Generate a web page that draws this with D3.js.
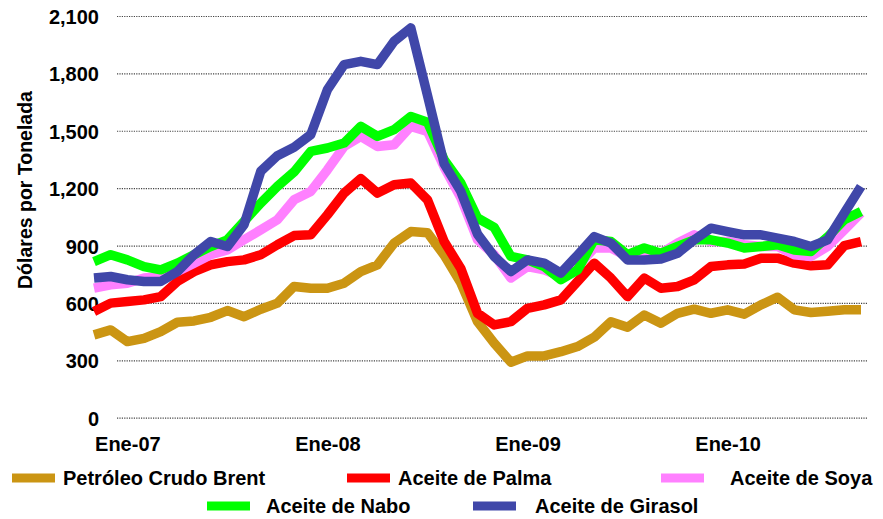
<!DOCTYPE html>
<html>
<head>
<meta charset="utf-8">
<title>Precios de aceites y petróleo</title>
<script src="https://cdnjs.cloudflare.com/ajax/libs/d3/7.8.5/d3.min.js"></script>
<style>
  body { margin: 0; background: #fff; }
  svg { display: block; font-family: "Liberation Sans", Arial, sans-serif; font-weight: bold; }
  .grid line { stroke: #444; stroke-width: 1.2; stroke-dasharray: 1.2 1.2; }
</style>
</head>
<body>
<svg id="chart" width="883" height="519"></svg>
<script>
// Months, Nov-06 .. Sep-10
const months = [
  "Nov-06", "Dic-06",
  "Ene-07", "Feb-07", "Mar-07", "Abr-07", "May-07", "Jun-07", "Jul-07", "Ago-07", "Sep-07", "Oct-07", "Nov-07", "Dic-07",
  "Ene-08", "Feb-08", "Mar-08", "Abr-08", "May-08", "Jun-08", "Jul-08", "Ago-08", "Sep-08", "Oct-08", "Nov-08", "Dic-08",
  "Ene-09", "Feb-09", "Mar-09", "Abr-09", "May-09", "Jun-09", "Jul-09", "Ago-09", "Sep-09", "Oct-09", "Nov-09", "Dic-09",
  "Ene-10", "Feb-10", "Mar-10", "Abr-10", "May-10", "Jun-10", "Jul-10", "Ago-10", "Sep-10"
];
const xTickLabels = ["Ene-07", "Ene-08", "Ene-09", "Ene-10"];
const yTicks = [0, 300, 600, 900, 1200, 1500, 1800, 2100];

// Dólares por tonelada
const brent = [433, 459, 398, 415, 450, 499, 506, 525, 560, 528, 567, 599, 686, 677, 677, 703, 764, 799, 913, 973, 967, 850, 705, 502,
  390, 290, 323, 323, 345, 372, 421, 502, 473, 537, 494, 546, 567, 546, 564, 541, 590, 630, 564, 550, 557, 564, 564];
const palma = [555, 599, 607, 616, 633, 712, 764, 799, 816, 825, 852, 904, 952, 956, 1061, 1174, 1250, 1174, 1218, 1227, 1139, 921, 780, 546,
  485, 502, 572, 590, 616, 712, 808, 730, 633, 730, 677, 686, 721, 790, 799, 804, 834, 834, 808, 794, 799, 900, 920];
const soya = [677, 695, 703, 730, 738, 764, 808, 852, 877, 930, 982, 1035, 1139, 1183, 1296, 1418, 1471, 1418, 1427, 1523, 1497, 1310, 1150, 930,
  852, 730, 790, 773, 738, 790, 887, 887, 843, 843, 860, 913, 956, 921, 921, 904, 895, 895, 852, 843, 895, 982, 1070];
const nabo = [816, 852, 825, 790, 773, 808, 852, 895, 930, 1026, 1122, 1209, 1285, 1392, 1410, 1436, 1523, 1471, 1506, 1575, 1545, 1349, 1227, 1044,
  995, 843, 825, 790, 721, 773, 930, 921, 852, 887, 860, 895, 930, 930, 913, 887, 895, 904, 877, 869, 945, 1035, 1078];
const girasol = [730, 738, 721, 712, 712, 764, 852, 921, 895, 1009, 1288, 1370, 1414, 1480, 1715, 1846, 1863, 1846, 1968, 2038, 1685, 1327, 1183, 960,
  843, 764, 825, 808, 756, 850, 947, 913, 825, 825, 830, 860, 930, 991, 973, 956, 956, 939, 921, 895, 930, 1070, 1209];

const seriesNames = ["Petróleo Crudo Brent", "Aceite de Palma", "Aceite de Soya", "Aceite de Nabo", "Aceite de Girasol"];
const seriesColors = ["#CB9513", "#FF0000", "#FF80FF", "#00FF00", "#4047A9"];
const seriesValues = [brent, palma, soya, nabo, girasol];

const svg = d3.select("#chart");
svg.append("rect").attr("width", 883).attr("height", 519).attr("fill", "#fff");

// scales
const x = d3.scalePoint().domain(months).range([94, 861]);
const y = d3.scaleLinear().domain([0, 2100]).range([417.7, 16]);

// y axis with dotted gridlines
const yAxis = svg.append("g")
  .attr("class", "grid")
  .attr("transform", "translate(117,0)")
  .call(d3.axisLeft(y).tickValues(yTicks).tickFormat(d3.format(",")).tickSize(-751).tickPadding(18));
yAxis.select(".domain").remove();
yAxis.selectAll("text").attr("font-size", 20).attr("fill", "#000").attr("dy", "0.38em");

// x axis labels
const xAxis = svg.append("g")
  .attr("transform", "translate(0,418)")
  .call(d3.axisBottom(x).tickValues(xTickLabels).tickSize(0).tickPadding(19));
xAxis.select(".domain").remove();
xAxis.selectAll("text").attr("font-size", 20).attr("fill", "#000");

// y axis title
svg.append("text")
  .attr("transform", "translate(32,190) rotate(-90)")
  .attr("text-anchor", "middle")
  .attr("font-size", 19.5)
  .text("Dólares por Tonelada");

// lines
const line = d3.line()
  .x((d, i) => x(months[i]))
  .y(d => y(d));

svg.append("g")
  .selectAll("path")
  .data(seriesValues)
  .join("path")
  .attr("d", line)
  .attr("fill", "none")
  .attr("stroke", (d, i) => seriesColors[i])
  .attr("stroke-width", 9.5)
  .attr("stroke-linejoin", "round");

// legend
const legendPos = [
  { sx: 12, tx: 63, y: 478 },
  { sx: 347, tx: 398, y: 478 },
  { sx: 661, tx: 730, y: 478 },
  { sx: 207, tx: 266, y: 506 },
  { sx: 473, tx: 535, y: 506 }
];
const legend = svg.append("g")
  .selectAll("g")
  .data(seriesNames)
  .join("g");
legend.append("line")
  .attr("x1", (d, i) => legendPos[i].sx)
  .attr("x2", (d, i) => legendPos[i].sx + 43)
  .attr("y1", (d, i) => legendPos[i].y)
  .attr("y2", (d, i) => legendPos[i].y)
  .attr("stroke", (d, i) => seriesColors[i])
  .attr("stroke-width", 9);
legend.append("text")
  .attr("x", (d, i) => legendPos[i].tx)
  .attr("y", (d, i) => legendPos[i].y + 7)
  .attr("font-size", 20)
  .text(d => d);
</script>
</body>
</html>
